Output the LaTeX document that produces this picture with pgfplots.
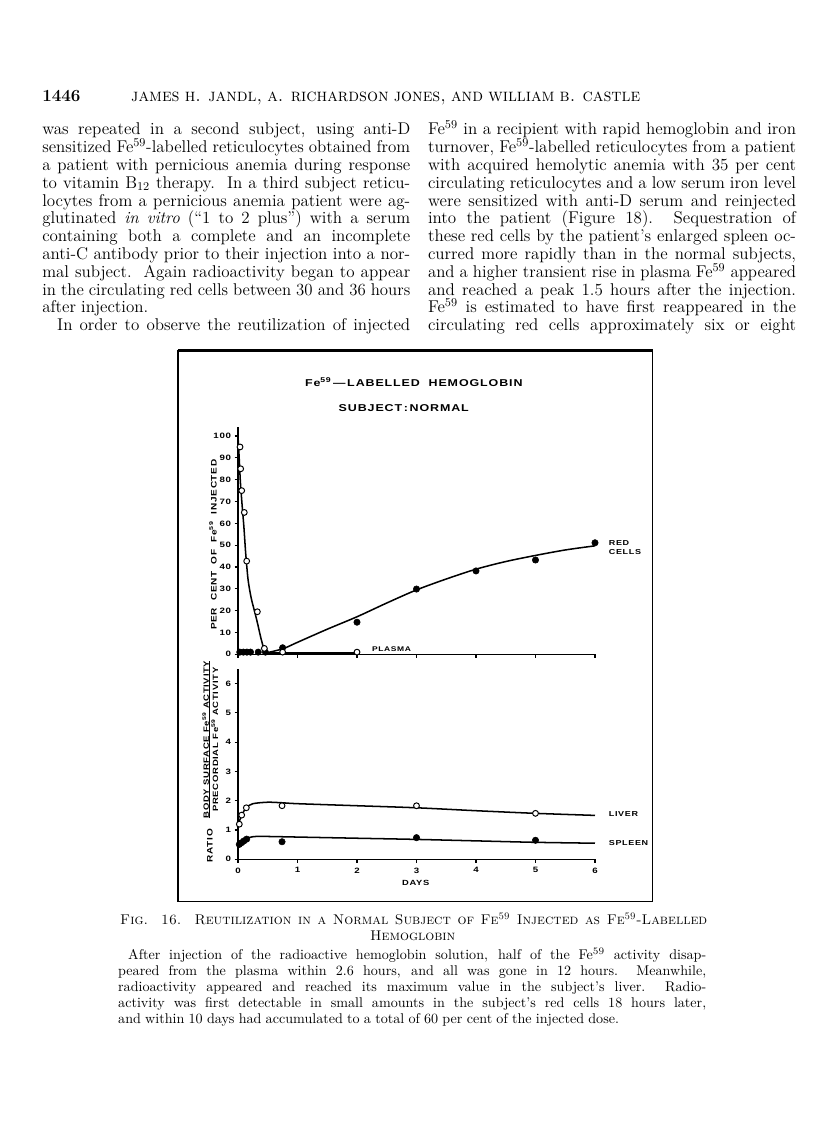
\documentclass[border=0pt]{standalone}
\usepackage{fontspec}
\usepackage{pgfplots}
\pgfplotsset{compat=1.18}
\newfontfamily\lettering[LetterSpace=9,FakeStretch=1.25]{Liberation Sans}
\newcommand\bodyfont{\addfontfeatures{FakeStretch=1.12}\fontsize{12.3}{15}\selectfont\spaceskip=0.3em plus 1em minus 0.1em\relax}
\newcommand\capfont{\addfontfeatures{FakeStretch=1.03}\fontsize{10.2}{12}\selectfont\spaceskip=0.3em plus 1em minus 0.1em\relax}
\newlength\colw \setlength\colw{3.68in}
\newsavebox\jlbox
\newcommand\jl[2][\colw]{\sbox\jlbox{#2}\ifdim\wd\jlbox>#1\relax\resizebox{#1}{\ht\jlbox}{\usebox\jlbox}\else\makebox[#1][s]{#2}\fi}
\newcommand\fe{Fe\textsuperscript{59}}
\newcommand\lett[1]{\lettering\bfseries\fontsize{#1}{#1}\selectfont}
\begin{document}
\begin{tikzpicture}
\useasboundingbox[fill=white] (0,0) rectangle (8.16in,-11.33in);
\begin{scope}[x=0.01in,y=-0.01in,every node/.style={inner sep=0pt}]
% header
\node[anchor=base west] at (42,102) {\bodyfont\bfseries 1446};
\node[anchor=base west] at (131,102) {\fontsize{13}{15}\selectfont\spaceskip=0.3em plus 1em minus 0.1em\relax\jl[5.09in]{\textsc{james h. jandl, a. richardson jones, and william b. castle}}};
% left column
\node[anchor=base west] at (42,135.0) {\bodyfont\jl{was repeated in a second subject, using anti-D}};
\node[anchor=base west] at (42,152.8) {\bodyfont\jl{sensitized \fe-labelled reticulocytes obtained from}};
\node[anchor=base west] at (42,170.6) {\bodyfont\jl{a patient with pernicious anemia during response}};
\node[anchor=base west] at (42,188.4) {\bodyfont\jl{to vitamin B\textsubscript{12} therapy.\ \ In a third subject reticu-}};
\node[anchor=base west] at (42,206.2) {\bodyfont\jl{locytes from a pernicious anemia patient were ag-}};
\node[anchor=base west] at (42,224.0) {\bodyfont\jl{glutinated \textit{in vitro} (``1 to 2 plus'') with a serum}};
\node[anchor=base west] at (42,241.8) {\bodyfont\jl{containing both a complete and an incomplete}};
\node[anchor=base west] at (42,259.6) {\bodyfont\jl{anti-C antibody prior to their injection into a nor-}};
\node[anchor=base west] at (42,277.4) {\bodyfont\jl{mal subject.\ \ Again radioactivity began to appear}};
\node[anchor=base west] at (42,295.2) {\bodyfont\jl{in the circulating red cells between 30 and 36 hours}};
\node[anchor=base west] at (42,313.0) {\bodyfont after injection.};
\node[anchor=base west] at (57,330.8) {\bodyfont\jl[3.53in]{In order to observe the reutilization of injected}};
% right column
\node[anchor=base west] at (428,135.0) {\bodyfont\jl{\fe{} in a recipient with rapid hemoglobin and iron}};
\node[anchor=base west] at (428,152.8) {\bodyfont\jl{turnover, \fe-labelled reticulocytes from a patient}};
\node[anchor=base west] at (428,170.6) {\bodyfont\jl{with acquired hemolytic anemia with 35 per cent}};
\node[anchor=base west] at (428,188.4) {\bodyfont\jl{circulating reticulocytes and a low serum iron level}};
\node[anchor=base west] at (428,206.2) {\bodyfont\jl{were sensitized with anti-D serum and reinjected}};
\node[anchor=base west] at (428,224.0) {\bodyfont\jl{into the patient (Figure 18).\ \ Sequestration of}};
\node[anchor=base west] at (428,241.8) {\bodyfont\jl{these red cells by the patient's enlarged spleen oc-}};
\node[anchor=base west] at (428,259.6) {\bodyfont\jl{curred more rapidly than in the normal subjects,}};
\node[anchor=base west] at (428,277.4) {\bodyfont\jl{and a higher transient rise in plasma \fe{} appeared}};
\node[anchor=base west] at (428,295.2) {\bodyfont\jl{and reached a peak 1.5 hours after the injection.}};
\node[anchor=base west] at (428,313.0) {\bodyfont\jl{\fe{} is estimated to have first reappeared in the}};
\node[anchor=base west] at (428,330.8) {\bodyfont\jl{circulating red cells approximately six or eight}};
% frame
\draw[line width=1.2pt] (178,351) rectangle (653,902);
\draw[line width=2pt] (178,351) -- (653,351);
% chart texts
\node at (414,382) {\lett{7.2}Fe\textsuperscript{59}\,—\,LABELLED\ \ HEMOGLOBIN};
\node at (404,408) {\lett{7.2}SUBJECT\,:\,NORMAL};
\node[rotate=90] at (213,545) {\lett{5.8}PER\ \ CENT\ \ OF\ \ Fe\textsuperscript{59}\ \ INJECTED};
\node[rotate=90] at (210,846) {\lett{5.8}RATIO};
\node[rotate=90] at (211.5,740) {\lett{5.5}\begin{tabular}{@{}c@{}}BODY SURFACE Fe\textsuperscript{59} ACTIVITY\\[-1.5pt]\hline\rule{0pt}{6pt}PRECORDIAL Fe\textsuperscript{59} ACTIVITY\end{tabular}};
\node[anchor=west] at (609,543) {\lett{5.2}RED};
\node[anchor=west] at (609,552.5) {\lett{5.2}CELLS};
\node[anchor=west] at (372,650) {\lett{4.9}PLASMA};
\node[anchor=west] at (609,814) {\lett{5.2}LIVER};
\node[anchor=west] at (609,843) {\lett{5.2}SPLEEN};
\node at (416,883) {\lett{5.4}DAYS};
% caption
\node[anchor=base west] at (120,925) {\capfont\jl[5.87in]{\textsc{Fig. 16.\ \ Reutilization in a Normal Subject of Fe\textsuperscript{59} Injected as Fe\textsuperscript{59}-Labelled}}};
\node[anchor=base] at (413,941) {\capfont\textsc{Hemoglobin}};
\node[anchor=base west] at (128,960) {\capfont\jl[5.78in]{After injection of the radioactive hemoglobin solution, half of the \fe{} activity disap-}};
\node[anchor=base west] at (118,976) {\capfont\jl[5.88in]{peared from the plasma within 2.6 hours, and all was gone in 12 hours.\ \ Meanwhile,}};
\node[anchor=base west] at (118,992) {\capfont\jl[5.88in]{radioactivity appeared and reached its maximum value in the subject's liver.\ \ Radio-}};
\node[anchor=base west] at (118,1008) {\capfont\jl[5.88in]{activity was first detectable in small amounts in the subject's red cells 18 hours later,}};
\node[anchor=base west] at (118,1024) {\capfont and within 10 days had accumulated to a total of 60 per cent of the injected dose.};
\end{scope}
\pgfplotsset{
  chartaxis/.style={scale only axis, width=3.57in, xmin=0, xmax=6, ymin=0, clip=false,
    axis x line*=bottom, axis y line*=left,
    axis line style={-, line width=1.1pt},
    tick align=outside, major tick length=2.5pt,
    tick style={black, line width=0.8pt},
    xtick={0,1,...,6},
    /pgf/number format/assume math mode=true,
    ticklabel style={font=\lett{5.6}},
    yticklabel style={xshift=1pt},
  },
  opc/.style={only marks, mark=*, mark size=2.1pt, mark options={fill=white, draw=black, line width=0.7pt}},
  flc/.style={only marks, mark=*, mark size=2.3pt, mark options={fill=black, draw=black}},
  crv/.style={no marks, black, line width=1.1pt, smooth},
}
\begin{axis}[chartaxis, at={(2.38in,-6.543in)}, anchor=south west, height=2.27in, ymax=104,
  ytick={0,10,...,100}, xticklabels={}]
\addplot[crv, tension=0.45] coordinates {(0,100) (0.02,90) (0.04,79) (0.07,68) (0.1,58) (0.13,46) (0.17,34) (0.22,26) (0.28,19.5) (0.33,14) (0.38,8) (0.43,3) (0.48,0.6)};
\addplot[no marks, black, line width=1.6pt] coordinates {(0.48,0.6) (1,0.6) (2,0.6)};
\addplot[crv] coordinates {(0.45,0.5) (0.75,2.5) (1,5.5) (1.5,11.5) (2,17.2) (2.5,23.5) (3,29.5) (3.5,34.5) (4,39) (4.5,42.5) (5,45.3) (5.5,47.8) (6,49.7)};
\addplot[flc] coordinates {(0.03,1) (0.09,1) (0.15,1) (0.21,1) (0.34,1) (0.46,1) (0.75,3) (2,14.7) (3,29.9) (4,38.2) (5,43.2) (6,51.1)};
\addplot[opc] coordinates {(0.034,95) (0.045,85) (0.062,75) (0.106,65) (0.146,42.7) (0.325,19.5) (0.443,2.7) (0.75,1) (2,1)};
\end{axis}
\begin{axis}[chartaxis, at={(2.38in,-8.593in)}, anchor=south west, height=1.903in, ymax=6.5,
  ytick={0,1,...,6}]
\addplot[crv] coordinates {(0,1.15) (0.05,1.45) (0.1,1.65) (0.15,1.78) (0.25,1.9) (0.5,1.95) (0.75,1.93) (1,1.9) (2,1.83) (3,1.76) (4,1.66) (5,1.57) (6,1.5)};
\addplot[crv] coordinates {(0,0.45) (0.05,0.56) (0.1,0.66) (0.2,0.75) (0.3,0.78) (0.5,0.78) (1,0.76) (2,0.72) (3,0.68) (4,0.63) (5,0.58) (6,0.55)};
\addplot[opc] coordinates {(0.022,1.2) (0.062,1.51) (0.14,1.76) (0.74,1.83) (3,1.83) (5,1.57)};
\addplot[flc] coordinates {(0.022,0.51) (0.062,0.57) (0.1,0.63) (0.146,0.69) (0.74,0.6) (3,0.74) (5,0.65)};
\end{axis}
\end{tikzpicture}
\end{document}
